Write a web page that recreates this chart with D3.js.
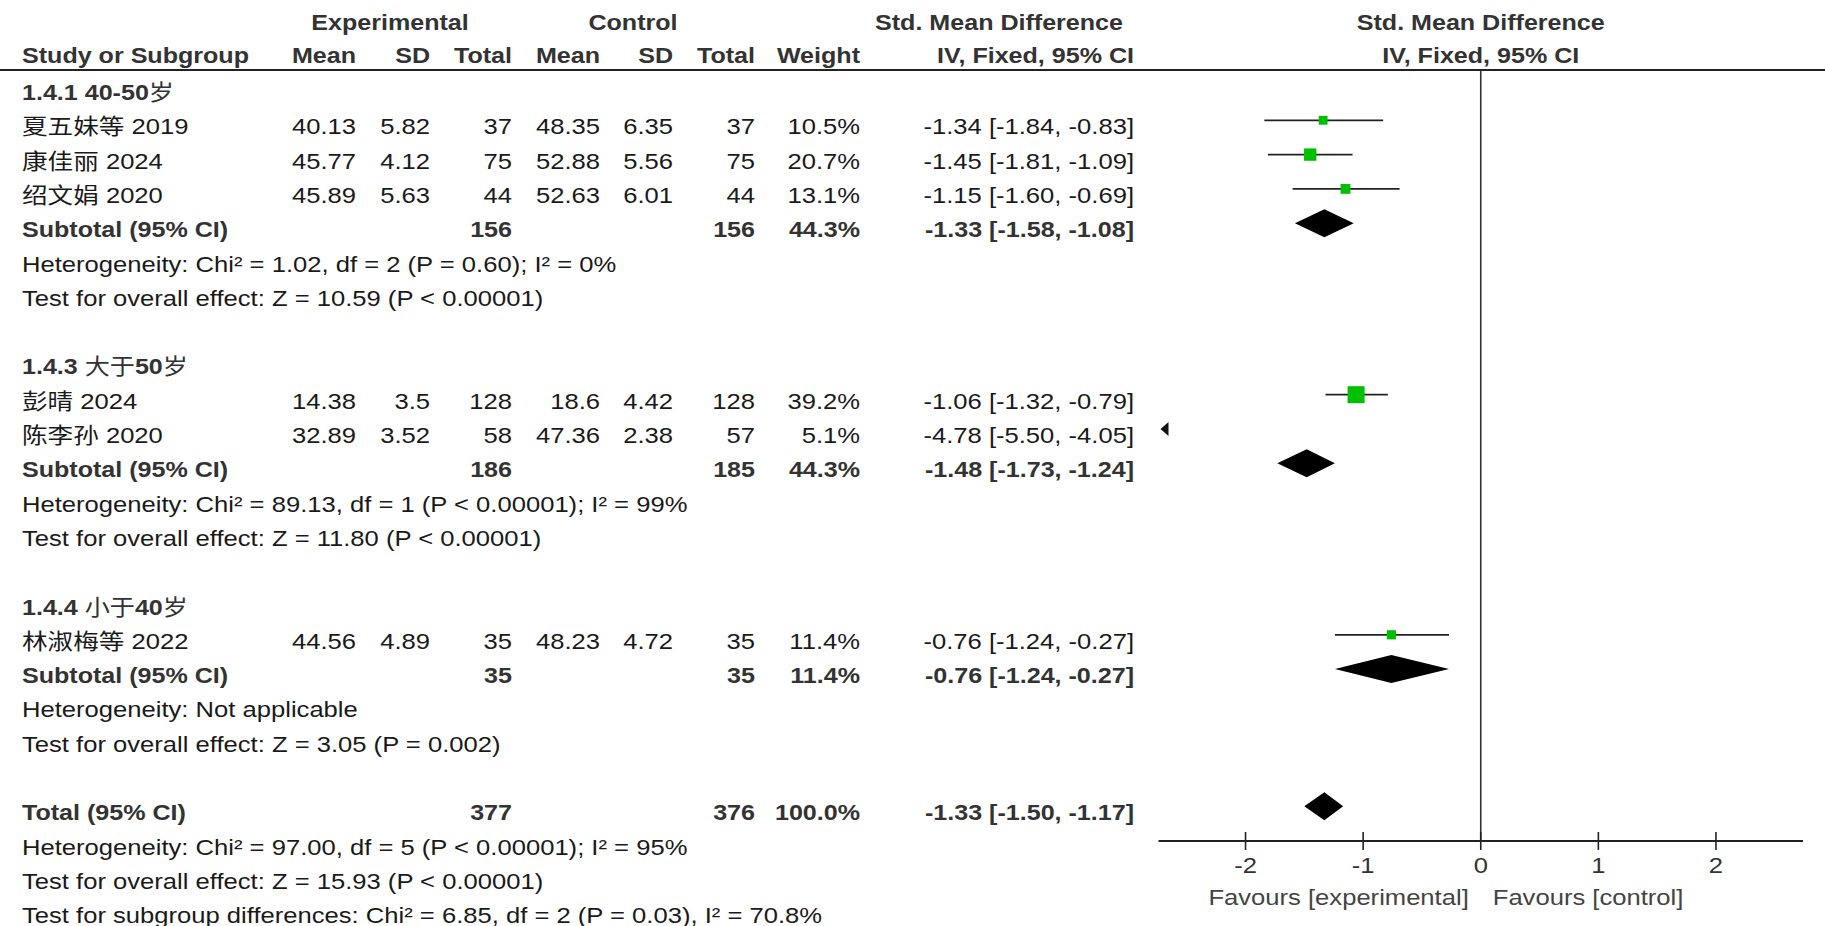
<!DOCTYPE html>
<html>
<head>
<meta charset="utf-8">
<script src="https://cdn.jsdelivr.net/npm/d3@7"></script>
<style>
  html, body { margin: 0; padding: 0; background: #fff; }
  svg { display: block; }
</style>
</head>
<body>
<div id="chart"></div>
<script>
// ── Datos ─────────────────────────────────────────────────────────────────
const groupLabels = ["1.4.1 40-50岁", "1.4.3 大于50岁", "1.4.4 小于40岁"];

const studyNames = ["夏五妹等 2019", "康佳丽 2024", "绍文娟 2020", "彭晴 2024", "陈李孙 2020", "林淑梅等 2022"];
const studyGroup = [0, 0, 0, 1, 1, 2];
const expMean  = [40.13, 45.77, 45.89, 14.38, 32.89, 44.56];
const expSD    = [5.82, 4.12, 5.63, 3.5, 3.52, 4.89];
const expTotal = [37, 75, 44, 128, 58, 35];
const ctlMean  = [48.35, 52.88, 52.63, 18.6, 47.36, 48.23];
const ctlSD    = [6.35, 5.56, 6.01, 4.42, 2.38, 4.72];
const ctlTotal = [37, 75, 44, 128, 57, 35];
const weights  = [10.5, 20.7, 13.1, 39.2, 5.1, 11.4];
const smd      = [-1.34, -1.45, -1.15, -1.06, -4.78, -0.76];
const ciLow    = [-1.84, -1.81, -1.60, -1.32, -5.50, -1.24];
const ciHigh   = [-0.83, -1.09, -0.69, -0.79, -4.05, -0.27];

const subExpTotal = [156, 186, 35];
const subCtlTotal = [156, 185, 35];
const subWeight   = [44.3, 44.3, 11.4];
const subSmd      = [-1.33, -1.48, -0.76];
const subLow      = [-1.58, -1.73, -1.24];
const subHigh     = [-1.08, -1.24, -0.27];
const subHet  = [
  "Heterogeneity: Chi² = 1.02, df = 2 (P = 0.60); I² = 0%",
  "Heterogeneity: Chi² = 89.13, df = 1 (P < 0.00001); I² = 99%",
  "Heterogeneity: Not applicable"
];
const subTest = [
  "Test for overall effect: Z = 10.59 (P < 0.00001)",
  "Test for overall effect: Z = 11.80 (P < 0.00001)",
  "Test for overall effect: Z = 3.05 (P = 0.002)"
];

const totalExp = 377, totalCtl = 376, totalWeight = 100.0;
const totalSmd = -1.33, totalLow = -1.50, totalHigh = -1.17;
const totalNotes = [
  "Heterogeneity: Chi² = 97.00, df = 5 (P < 0.00001); I² = 95%",
  "Test for overall effect: Z = 15.93 (P < 0.00001)",
  "Test for subgroup differences: Chi² = 6.85, df = 2 (P = 0.03), I² = 70.8%"
];

const axisTicks = [-2, -1, 0, 1, 2];
const axisDomain = [-2.74, 2.74];
const favourLeft = "Favours [experimental]";
const favourRight = "Favours [control]";

// ── Layout ────────────────────────────────────────────────────────────────
const width = 1825, height = 926;
const SX = 1.164;           // el texto original está algo estirado en horizontal
const SXB = 1.14;           // negrita, un poco más apretada
const FS = 22;
const FONT = "'Liberation Sans', Arial, 'Noto Sans CJK SC', sans-serif";
const rowY0 = 100, rowStep = 34.3;   // línea base de la fila 0 y paso entre filas
const markDy = -14;                  // marcas respecto de la línea base
const ruleY = 70, axisY = 841;

const col = {name: 22, expMean: 356, expSD: 430, expTotal: 512,
             ctlMean: 600, ctlSD: 673, ctlTotal: 755, weight: 860, ci: 1134};

const x = d3.scaleLinear().domain(axisDomain).range([1158.5, 1803]);

const fmtCI = (m, lo, hi) => `${m.toFixed(2)} [${lo.toFixed(2)}, ${hi.toFixed(2)}]`;
const fmtW = w => `${w.toFixed(1)}%`;

// filas de la tabla
const rows = [];
let r = 0;
groupLabels.forEach((gl, gi) => {
  rows.push({type: "group", i: r++, label: gl});
  studyNames.forEach((s, si) => {
    if (studyGroup[si] !== gi) return;
    rows.push({type: "study", i: r++, k: si});
  });
  rows.push({type: "subtotal", i: r++, k: gi});
  rows.push({type: "note", i: r++, label: subHet[gi]});
  rows.push({type: "note", i: r++, label: subTest[gi]});
  r++; // fila en blanco
});
rows.push({type: "total", i: r++});
totalNotes.forEach(t => rows.push({type: "note", i: r++, label: t}));

const baseY = i => rowY0 + rowStep * i;

// ── SVG ──────────────────────────────────────────────────────────────────
const svg = d3.select("#chart").append("svg")
  .attr("width", width).attr("height", height)
  .attr("viewBox", [0, 0, width, height])
  .style("font-family", FONT);

svg.append("rect").attr("width", width).attr("height", height).attr("fill", "#fff");

function text(g, px, py, str, {anchor = "start", bold = false, fill = "#1a1a1a"} = {}) {
  const t = g.append("text")
    .attr("transform", `translate(${px},${py}) scale(${bold ? SXB : SX},1)`)
    .attr("text-anchor", anchor)
    .attr("font-size", FS)
    .attr("font-weight", bold ? "bold" : "normal")
    .attr("fill", bold ? "#333" : fill);
  // los caracteres chinos van en peso normal
  str.split(/([\u3400-\u9fff]+)/).filter(s => s.length).forEach(part => {
    const sp = t.append("tspan").text(part);
    if (/[\u3400-\u9fff]/.test(part)) sp.attr("font-weight", "normal");
  });
  return t;
}

const gText = svg.append("g");
const gPlot = svg.append("g");

// Encabezados
text(gText, 390, 30, "Experimental", {anchor: "middle", bold: true});
text(gText, 633, 30, "Control", {anchor: "middle", bold: true});
text(gText, 1123, 30, "Std. Mean Difference", {anchor: "end", bold: true});
text(gText, x(0), 30, "Std. Mean Difference", {anchor: "middle", bold: true});

text(gText, col.name, 63, "Study or Subgroup", {bold: true});
[["expMean", "Mean"], ["expSD", "SD"], ["expTotal", "Total"],
 ["ctlMean", "Mean"], ["ctlSD", "SD"], ["ctlTotal", "Total"],
 ["weight", "Weight"], ["ci", "IV, Fixed, 95% CI"]].forEach(([c, lab]) =>
  text(gText, col[c], 63, lab, {anchor: "end", bold: true}));
text(gText, x(0), 63, "IV, Fixed, 95% CI", {anchor: "middle", bold: true});

// Regla superior
svg.append("line").attr("x1", 0).attr("x2", width).attr("y1", ruleY).attr("y2", ruleY)
  .attr("stroke", "#222").attr("stroke-width", 2);

// Línea vertical en 0
gPlot.append("line").attr("x1", x(0)).attr("x2", x(0)).attr("y1", ruleY).attr("y2", axisY)
  .attr("stroke", "#333").attr("stroke-width", 1.6);

// Filas
rows.forEach(row => {
  const y = baseY(row.i);
  const my = y + markDy;
  if (row.type === "group") {
    text(gText, col.name, y, row.label, {bold: true});
  } else if (row.type === "note") {
    text(gText, col.name, y, row.label);
  } else if (row.type === "study") {
    const k = row.k;
    text(gText, col.name, y, studyNames[k]);
    text(gText, col.expMean, y, String(expMean[k]), {anchor: "end"});
    text(gText, col.expSD, y, String(expSD[k]), {anchor: "end"});
    text(gText, col.expTotal, y, String(expTotal[k]), {anchor: "end"});
    text(gText, col.ctlMean, y, String(ctlMean[k]), {anchor: "end"});
    text(gText, col.ctlSD, y, String(ctlSD[k]), {anchor: "end"});
    text(gText, col.ctlTotal, y, String(ctlTotal[k]), {anchor: "end"});
    text(gText, col.weight, y, fmtW(weights[k]), {anchor: "end"});
    text(gText, col.ci, y, fmtCI(smd[k], ciLow[k], ciHigh[k]), {anchor: "end"});

    const [d0, d1] = axisDomain;
    if (ciHigh[k] < d0) {
      // fuera de escala por la izquierda: flecha
      const tx = x(d0) + 2;
      gPlot.append("path")
        .attr("d", `M${tx},${my} L${tx + 8},${my - 7} L${tx + 8},${my + 7} Z`)
        .attr("fill", "#111");
    } else {
      gPlot.append("line")
        .attr("x1", x(Math.max(ciLow[k], d0))).attr("x2", x(Math.min(ciHigh[k], d1)))
        .attr("y1", my).attr("y2", my)
        .attr("stroke", "#222").attr("stroke-width", 1.8);
      const side = 17 * Math.sqrt(weights[k] / 39.2);
      gPlot.append("rect")
        .attr("x", x(smd[k]) - side / 2).attr("y", my - side / 2)
        .attr("width", side).attr("height", side)
        .attr("fill", "#00c000");
    }
  } else if (row.type === "subtotal" || row.type === "total") {
    const isTot = row.type === "total";
    const k = row.k;
    const lab = isTot ? "Total (95% CI)" : "Subtotal (95% CI)";
    const e = isTot ? totalExp : subExpTotal[k];
    const c = isTot ? totalCtl : subCtlTotal[k];
    const w = isTot ? totalWeight : subWeight[k];
    const m = isTot ? totalSmd : subSmd[k];
    const lo = isTot ? totalLow : subLow[k];
    const hi = isTot ? totalHigh : subHigh[k];
    text(gText, col.name, y, lab, {bold: true});
    text(gText, col.expTotal, y, String(e), {anchor: "end", bold: true});
    text(gText, col.ctlTotal, y, String(c), {anchor: "end", bold: true});
    text(gText, col.weight, y, fmtW(w), {anchor: "end", bold: true});
    text(gText, col.ci, y, fmtCI(m, lo, hi), {anchor: "end", bold: true});
    const hh = 14;
    gPlot.append("path")
      .attr("d", `M${x(lo)},${my} L${x(m)},${my - hh} L${x(hi)},${my} L${x(m)},${my + hh} Z`)
      .attr("fill", "#000");
  }
});

// Eje inferior
const gAxis = gPlot.append("g");
gAxis.append("line").attr("x1", x(axisDomain[0])).attr("x2", x(axisDomain[1]))
  .attr("y1", axisY).attr("y2", axisY).attr("stroke", "#222").attr("stroke-width", 2);
axisTicks.forEach(t => {
  gAxis.append("line").attr("x1", x(t)).attr("x2", x(t))
    .attr("y1", axisY - 9).attr("y2", axisY + 9)
    .attr("stroke", "#222").attr("stroke-width", 1.6);
  text(gAxis, x(t), 873, String(t), {anchor: "middle", fill: "#333"});
});
text(gAxis, x(0) - 12, 905, favourLeft, {anchor: "end", fill: "#444"});
text(gAxis, x(0) + 12, 905, favourRight, {anchor: "start", fill: "#444"});
</script>
</body>
</html>
